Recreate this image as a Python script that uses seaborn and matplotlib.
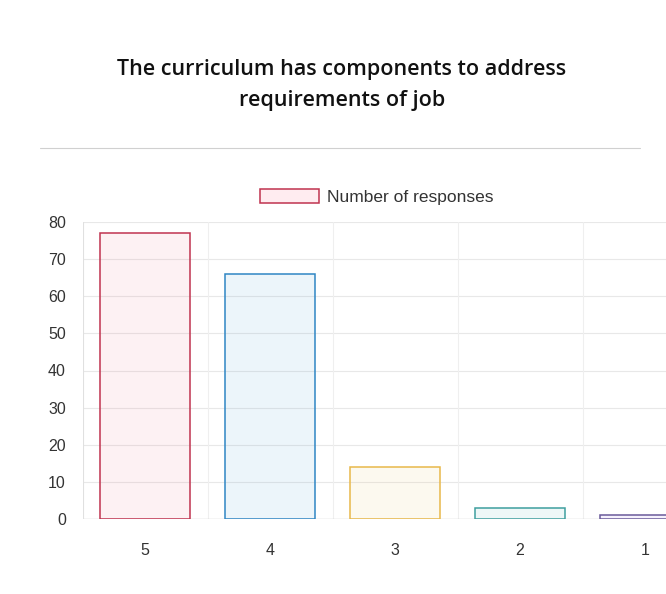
import matplotlib
matplotlib.use("Agg")
import matplotlib.pyplot as plt
import matplotlib.patches as mpatches
import seaborn as sns
import pandas as pd

# ── Data ──────────────────────────────────────────────────────────────────────
ratings   = ["5", "4", "3", "2", "1"]
responses = [77, 66, 14, 3, 1]
series    = "Number of responses"
title     = "The curriculum has components to address\nrequirements of job"

# chart.js default dataset colours — fill drawn faint, border a bit darker
BORDERS   = ["#ff6384", "#36a2eb", "#ffce56", "#4bc0c0", "#9966ff"]
EDGE_DARK = ["#c0334f", "#2f86c4", "#e8b84a", "#3f9f9f", "#6a5a9a"]

sns.set_theme(style="white")
plt.rcParams["font.family"] = ["Liberation Sans", "DejaVu Sans"]

df = pd.DataFrame({"rating": ratings, "count": responses})

W, H = 666, 594
fig = plt.figure(figsize=(W / 100, H / 100), dpi=100)
fig.patch.set_facecolor("white")

# plot area (pixel coords converted); right side runs past the photo edge
left, right, top, bottom = 82.5, 707.5, 222, 519
ax = fig.add_axes([left / W, 1 - bottom / H, (right - left) / W, (bottom - top) / H])

sns.barplot(data=df, x="rating", y="count", order=ratings, hue="rating",
            palette=BORDERS, legend=False, width=0.72, ax=ax, zorder=3)
for bar, edge in zip(ax.patches, EDGE_DARK):
    fc = bar.get_facecolor()
    bar.set_facecolor((fc[0], fc[1], fc[2], 0.1))
    bar.set_edgecolor(edge)
    bar.set_linewidth(1.1)

ax.set_ylim(0, 80)
ax.set_xlim(-0.5, len(ratings) - 0.5)
ax.set_yticks(range(0, 81, 10))
ax.set_xlabel(""); ax.set_ylabel("")
ax.tick_params(axis="y", labelsize=11.5, colors="#333333", pad=12, length=0)
ax.tick_params(axis="x", labelsize=11.5, colors="#333333", pad=17, length=0)

# grid: horizontal at ticks, vertical between categories
for y in range(10, 81, 10):
    ax.axhline(y, color="#e8e8e8", linewidth=0.8, zorder=0)
for x in [i + 0.5 for i in range(len(ratings) - 1)]:
    ax.axvline(x, color="#efefef", linewidth=0.8, zorder=0)
ax.axhline(0, color="#cccccc", linewidth=1.0, zorder=1)
ax.axvline(-0.5, color="#e0e0e0", linewidth=0.8, zorder=1)
for s in ax.spines.values():
    s.set_visible(False)

# title and separator
fig.text(342 / W, 1 - 85 / H, title, ha="center", va="center",
         fontsize=15.5, fontweight="semibold", family=["Open Sans", "DejaVu Sans"],
         color="#111111", linespacing=1.6)
fig.add_artist(plt.Line2D([40 / W, 640 / W], [1 - 148 / H, 1 - 148 / H],
                          color="#d0d0d0", linewidth=0.8))

# legend
handle = mpatches.Patch(facecolor=(1, 0.39, 0.52, 0.12), edgecolor=EDGE_DARK[0],
                        linewidth=1.1, label=series)
fig.legend(handles=[handle], loc="center", bbox_to_anchor=(377 / W, 1 - 197 / H),
           frameon=False, fontsize=12.5, handlelength=3.4, handleheight=0.85,
           handletextpad=0.45, labelcolor="#333333")

fig.savefig("out.png", dpi=100, facecolor="white")
